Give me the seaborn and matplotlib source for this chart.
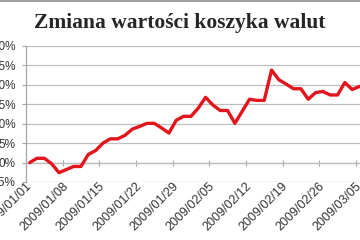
import numpy as np
import pandas as pd
import matplotlib
matplotlib.use("Agg")
import matplotlib.pyplot as plt
import seaborn as sns

# basket value change (%), one value per business day from 2009/01/01
values = [0.0, 1.1, 1.1, -0.3, -2.6, -1.8, -1.0, -1.0, 2.1, 3.1,
          5.0, 6.1, 6.1, 7.0, 8.6, 9.3, 10.1, 10.1, 8.9, 7.6,
          10.9, 11.9, 11.9, 14.0, 16.8, 14.8, 13.4, 13.4, 10.1, 13.2,
          16.3, 16.0, 16.0, 23.8, 21.3, 20.2, 19.0, 19.0, 16.3, 18.0,
          18.3, 17.4, 17.4, 20.6, 18.8, 19.6]
tick_labels = ["2009/01/01", "2009/01/08", "2009/01/15", "2009/01/22", "2009/01/29",
               "2009/02/05", "2009/02/12", "2009/02/19", "2009/02/26", "2009/03/05"]
y_ticks = [-5, 0, 5, 10, 15, 20, 25, 30]

df = pd.DataFrame({"day": np.arange(len(values)), "change": values})

sns.set_style("white")
plt.rcParams['font.family'] = ['Liberation Sans', 'DejaVu Sans']

fig = plt.figure(figsize=(3.6, 2.4), dpi=100)
ax = fig.add_axes([26 / 360, 58 / 240, 344.5 / 360, 136 / 240])

sns.lineplot(data=df, x="day", y="change", ax=ax, color="#e3141b", linewidth=2.4)

ax.set_xlim(-0.5, 46.5)
ax.set_ylim(-5, 30)
ax.set_yticks(y_ticks)
ax.set_yticklabels([f"{v}%" for v in y_ticks])
ax.yaxis.grid(True, color="#bfbfbf", linewidth=0.9)
ax.set_xlabel("")
ax.set_ylabel("")

# category labels under the plot (every 5th business day)
ax.set_xticks(range(0, len(values), 5))
ax.set_xticklabels(tick_labels)
for lbl in ax.get_xticklabels():
    lbl.set_rotation(45)
    lbl.set_ha("right")
    lbl.set_va("center")
    lbl.set_rotation_mode("anchor")
ax.tick_params(axis="x", length=0, pad=2, labelsize=9, labelcolor="#333333")
ax.tick_params(axis="y", length=3, color="#a6a6a6", width=0.8, pad=4.5,
               labelsize=8.5, labelcolor="#333333", left=True)

for side in ["top", "right", "bottom"]:
    ax.spines[side].set_visible(False)
ax.spines["left"].set_color("#a6a6a6")
ax.spines["left"].set_linewidth(0.9)

# horizontal category axis crosses at 0%
sec = ax.secondary_xaxis(1 / 7)
sec.set_xticks(np.arange(-0.5, len(values), 5))
sec.set_xticklabels([])
sec.tick_params(length=4, direction="inout", color="#a6a6a6", width=0.8)
sec.spines["bottom"].set_color("#a6a6a6")
sec.spines["bottom"].set_linewidth(0.9)

fig.text(0.5, 1 - 23 / 240, "Zmiana wartości koszyka walut", ha="center", va="center",
         fontsize=15.5, fontweight="bold", family=["Liberation Serif", "DejaVu Serif"])
fig.add_artist(plt.Line2D([0, 1], [0.997, 0.997], color="#a0a0a0", linewidth=1.5))

fig.savefig("out.png", dpi=100)
